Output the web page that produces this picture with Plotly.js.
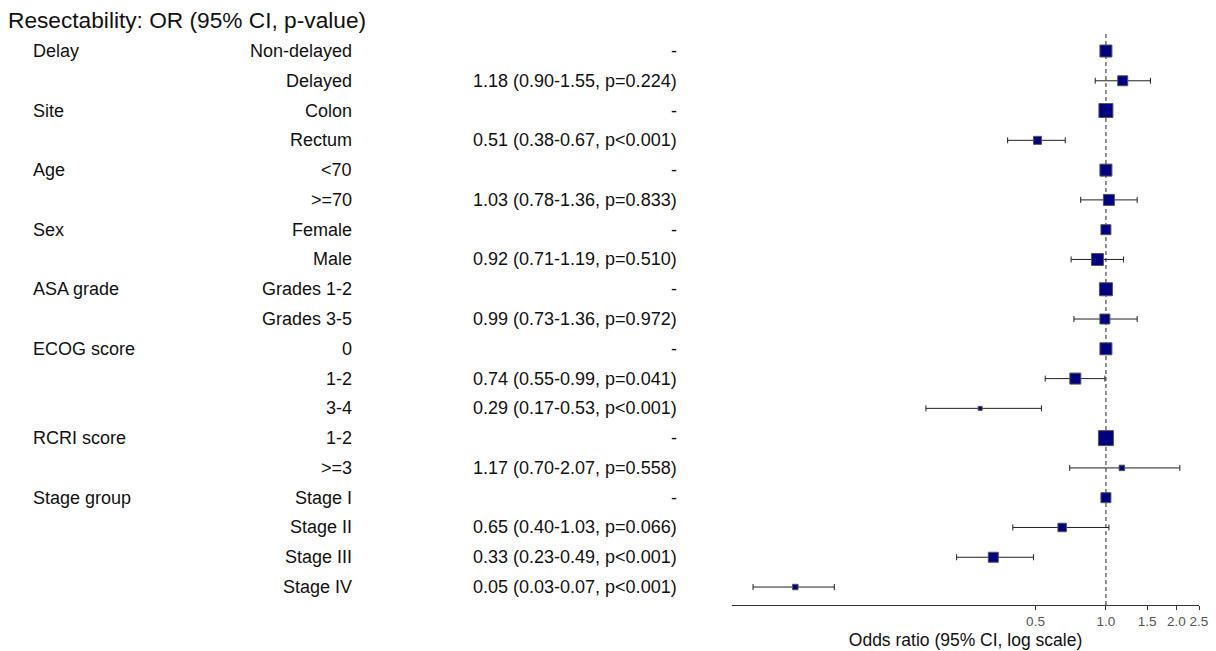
<!DOCTYPE html>
<html>
<head>
<meta charset="utf-8">
<script src="https://cdn.plot.ly/plotly-3.0.1.min.js"></script>
<style>html,body{margin:0;padding:0;background:#fff;}#chart{width:1216px;height:651px;}</style>
</head>
<body>
<div id="chart"></div>
<script>
// ---- data ----
const chartTitle = 'Resectability: OR (95% CI, p-value)';
const variables = ['Delay','','Site','','Age','','Sex','','ASA grade','','ECOG score','','','RCRI score','','Stage group','','',''];
const levels = ['Non-delayed','Delayed','Colon','Rectum','<70','>=70','Female','Male','Grades 1-2','Grades 3-5','0','1-2','3-4','1-2','>=3','Stage I','Stage II','Stage III','Stage IV'];
const oddsRatio = [1, 1.18, 1, 0.51, 1, 1.03, 1, 0.92, 1, 0.99, 1, 0.74, 0.29, 1, 1.17, 1, 0.65, 0.33, 0.047];
const ciLower = [null, 0.90, null, 0.38, null, 0.78, null, 0.71, null, 0.73, null, 0.55, 0.17, null, 0.70, null, 0.40, 0.23, 0.031];
const ciUpper = [null, 1.55, null, 0.67, null, 1.36, null, 1.19, null, 1.36, null, 0.99, 0.53, null, 2.07, null, 1.03, 0.49, 0.069];
const pValue = ['', '=0.224', '', '<0.001', '', '=0.833', '', '=0.510', '', '=0.972', '', '=0.041', '<0.001', '', '=0.558', '', '=0.066', '<0.001', '<0.001'];
// relative box weight (sample size) per row
const boxWeight = [12, 10, 14, 8, 12, 11, 10, 12, 13, 10, 12, 11, 4, 15, 5.5, 10, 8.5, 10, 5.5];
const tickVals = [0.5, 1.0, 1.5, 2.0, 2.5];
const tickText = ['0.5', '1.0', '1.5', '2.0', '2.5'];
const xAxisTitle = 'Odds ratio (95% CI, log scale)';

// ---- build ----
const FONT = 'Liberation Sans, Arial, Helvetica, sans-serif';
const W = 1216, H = 651;
const n = levels.length;
const rowY = levels.map((_, i) => -i);
const orText = oddsRatio.map((v, i) => ciLower[i] === null ? '-' :
  v.toFixed(2) + ' (' + ciLower[i].toFixed(2) + '-' + ciUpper[i].toFixed(2) + ', p' + pValue[i] + ')');

const errPlus = oddsRatio.map((v, i) => ciUpper[i] === null ? null : ciUpper[i] - v);
const errMinus = oddsRatio.map((v, i) => ciLower[i] === null ? null : v - ciLower[i]);

const trace = {
  type: 'scatter', mode: 'markers',
  x: oddsRatio, y: rowY,
  marker: { symbol: 'square', size: boxWeight, opacity: 1, color: '#000080', line: { color: '#555555', width: 1 } },
  error_x: { type: 'data', symmetric: false, array: errPlus, arrayminus: errMinus,
             color: '#222222', thickness: 1, width: 3 },
  hoverinfo: 'skip', showlegend: false, cliponaxis: false
};

const annotations = [];
const txtFont = { family: FONT, size: 18, color: '#111111' };
for (let i = 0; i < n; i++) {
  if (variables[i]) annotations.push({ xref: 'paper', yref: 'y', x: 31 / W, y: rowY[i], xanchor: 'left', yanchor: 'middle', text: variables[i], showarrow: false, font: txtFont });
  annotations.push({ xref: 'paper', yref: 'y', x: 354 / W, y: rowY[i], xanchor: 'right', yanchor: 'middle', text: levels[i].replace(/</g, '&lt;'), showarrow: false, font: txtFont });
  annotations.push({ xref: 'paper', yref: 'y', x: 679 / W, y: rowY[i], xanchor: 'right', yanchor: 'middle', text: orText[i].replace(/</g, '&lt;'), showarrow: false, font: txtFont });
}

const layout = {
  width: W, height: H,
  margin: { l: 0, r: 0, t: 32, b: 46 },
  paper_bgcolor: '#ffffff', plot_bgcolor: '#ffffff',
  font: { family: FONT, color: '#111111' },
  title: { text: chartTitle, x: 8 / W, xanchor: 'left', xref: 'paper', y: 1 - 20 / H, yanchor: 'middle', yref: 'container',
           font: { family: FONT, size: 22.7, color: '#111111' } },
  xaxis: {
    type: 'log', domain: [732 / W, 1199 / W],
    range: [Math.log10(0.0252), Math.log10(2.5)],
    tickvals: tickVals, ticktext: tickText,
    ticks: 'outside', ticklen: 4, tickwidth: 1, tickcolor: '#333333',
    tickfont: { family: FONT, size: 13.5, color: '#555555' },
    showline: true, linecolor: '#333333', linewidth: 1,
    showgrid: false, zeroline: false,
    title: { text: xAxisTitle, font: { family: FONT, size: 17.5, color: '#111111' }, standoff: 5 }
  },
  yaxis: {
    range: [-18.603, 0.638], visible: false, showgrid: false, zeroline: false, fixedrange: true
  },
  shapes: [{
    type: 'line', xref: 'x', yref: 'paper', x0: 1, x1: 1, y0: 0, y1: 1,
    line: { color: '#777777', width: 1.6, dash: '4px,3px' }, layer: 'below'
  }],
  annotations: annotations
};

Plotly.newPlot('chart', [trace], layout, { displayModeBar: false, staticPlot: true });
</script>
</body>
</html>
